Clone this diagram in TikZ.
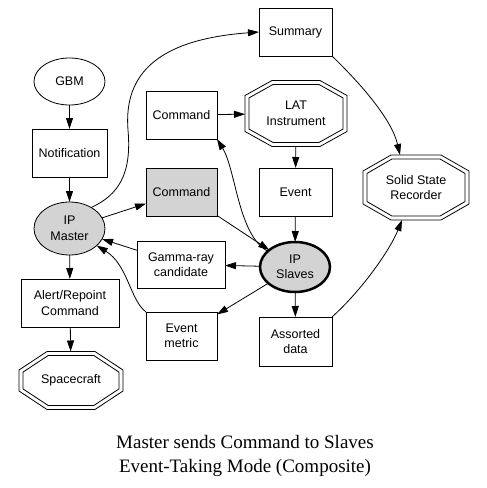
\documentclass[tikz,border=0pt]{standalone}
\usepackage{fontspec}
\setmainfont{Liberation Sans}
\newfontfamily\capfont{Liberation Serif}
\usepackage{xcolor}
\usepackage{tikz}
\usetikzlibrary{arrows.meta, calc, shapes.geometric}
\definecolor{nodeGray}{HTML}{D3D3D3}
\newcommand{\nodefont}{\fontsize{12.5}{15.5}\selectfont}
% one ring of a double octagon: node, inset, chamfer x, chamfer y
\newcommand{\octring}[4]{%
  \draw ($(#1.north west)+(#3,#2)$) -- ($(#1.north east)+(-#3,#2)$) -- ($(#1.north east)+(-#2,#4)$) -- ($(#1.south east)+(-#2,-#4)$) -- ($(#1.south east)+(-#3,-#2)$) -- ($(#1.south west)+(#3,-#2)$) -- ($(#1.south west)+(#2,-#4)$) -- ($(#1.north west)+(#2,#4)$) -- cycle;}

\begin{document}
\begin{tikzpicture}[x=1pt,y=-1pt,line width=0.8pt]
    \tikzset{s/.style={draw,rectangle,minimum width=71pt,minimum height=48pt,inner sep=2pt,outer sep=0pt,align=center,font=\nodefont}, grey/.style={s,fill=nodeGray}, oval/.style={draw,ellipse,minimum width=71pt,minimum height=47pt,inner sep=0pt,outer sep=0pt,align=center,font=\nodefont}, oct/.style={rectangle,inner sep=0pt,outer sep=0pt,align=center,font=\nodefont}, arr/.style={-{Triangle[length=11pt,width=7pt]}}}
    \useasboundingbox (0,0) rectangle (487,488);
    \node[oval] (gbm) at (69.5,81.5) {GBM};
    \node[s,minimum width=75pt] (note) at (69.5,153) {Notification};
    \node[oval,fill=nodeGray,minimum height=53pt] (master) at (69.5,228.5) {IP\\Master};
    \node[s,minimum width=98pt] (alert) at (70,303) {Alert/Repoint\\Command};
    \node[oct,minimum width=104pt,minimum height=58pt] (craft) at (71,380.5) {Spacecraft};
    \node[s] (cmda) at (181.5,115) {Command};
    \node[grey] (cmdb) at (181.5,192) {Command};
    \node[s,minimum width=88pt,minimum height=47pt] (gamma) at (181,264.5) {Gamma-ray\\candidate};
    \node[s] (metric) at (181.5,336) {Event\\metric};
    \node[s,minimum width=73pt] (summary) at (295.5,32) {Summary};
    \node[oct,minimum width=102pt,minimum height=66pt] (lat) at (296,113.5) {LAT\\Instrument};
    \node[s,minimum width=73pt] (event) at (295.5,192) {Event};
    \node[oval,fill=nodeGray,line width=2.5pt,minimum width=70pt,minimum height=50pt] (slaves) at (295,267) {IP\\Slaves};
    \node[s,minimum width=73pt,minimum height=49pt] (assorted) at (295.5,341.5) {Assorted\\data};
    \node[oct,minimum width=106pt,minimum height=65pt] (ssr) at (416,187.5) {Solid State\\Recorder};
    \octring{craft}{0}{28}{18.5} \octring{craft}{4}{29.2}{20.6}
    \octring{lat}{0}{27}{15} \octring{lat}{4}{28}{17.4}
    \octring{ssr}{0}{28}{16} \octring{ssr}{4}{29}{18.4}
    \node[font=\capfont\fontsize{19}{24}\selectfont,align=center] (caption) at (245,456) {Master sends Command to Slaves\\Event-Taking Mode (Composite)};
    \draw[arr] (gbm)--(note);
    \draw[arr] (note)--(master);
    \draw[arr] (master)--(alert);
    \draw[arr] (alert)--(craft);
    \draw[arr] (master)--(cmdb);
    \draw[arr] (master.44) .. controls (118,195) and (132,175) .. (128,130) .. controls (124,80) and (150,40) .. (summary.west);
    \draw[arr] (cmda)--(lat);
    \draw[arr] (lat)--(event);
    \draw[arr] (event)--(slaves);
    \draw[arr] (cmdb)--(slaves);
    \draw[arr] (slaves.150) .. controls (238,235) and (236,170) .. (cmda.south east);
    \draw[arr] (slaves)--(gamma);
    \draw[arr] (slaves)--(metric);
    \draw[arr] (gamma)--(master);
    \draw[arr] (metric.north west) .. controls (130,300) and (128,265) .. (master.-32);
    \draw[arr] (slaves)--(assorted);
    \draw[arr] (summary.south east) .. controls (362,85) and (392,120) .. ($(ssr.north)+(-16,0)$);
    \draw[arr] (assorted.north east) .. controls (362,290) and (390,250) .. ($(ssr.south)+(-14,0)$);
  \end{tikzpicture}
\end{document}
